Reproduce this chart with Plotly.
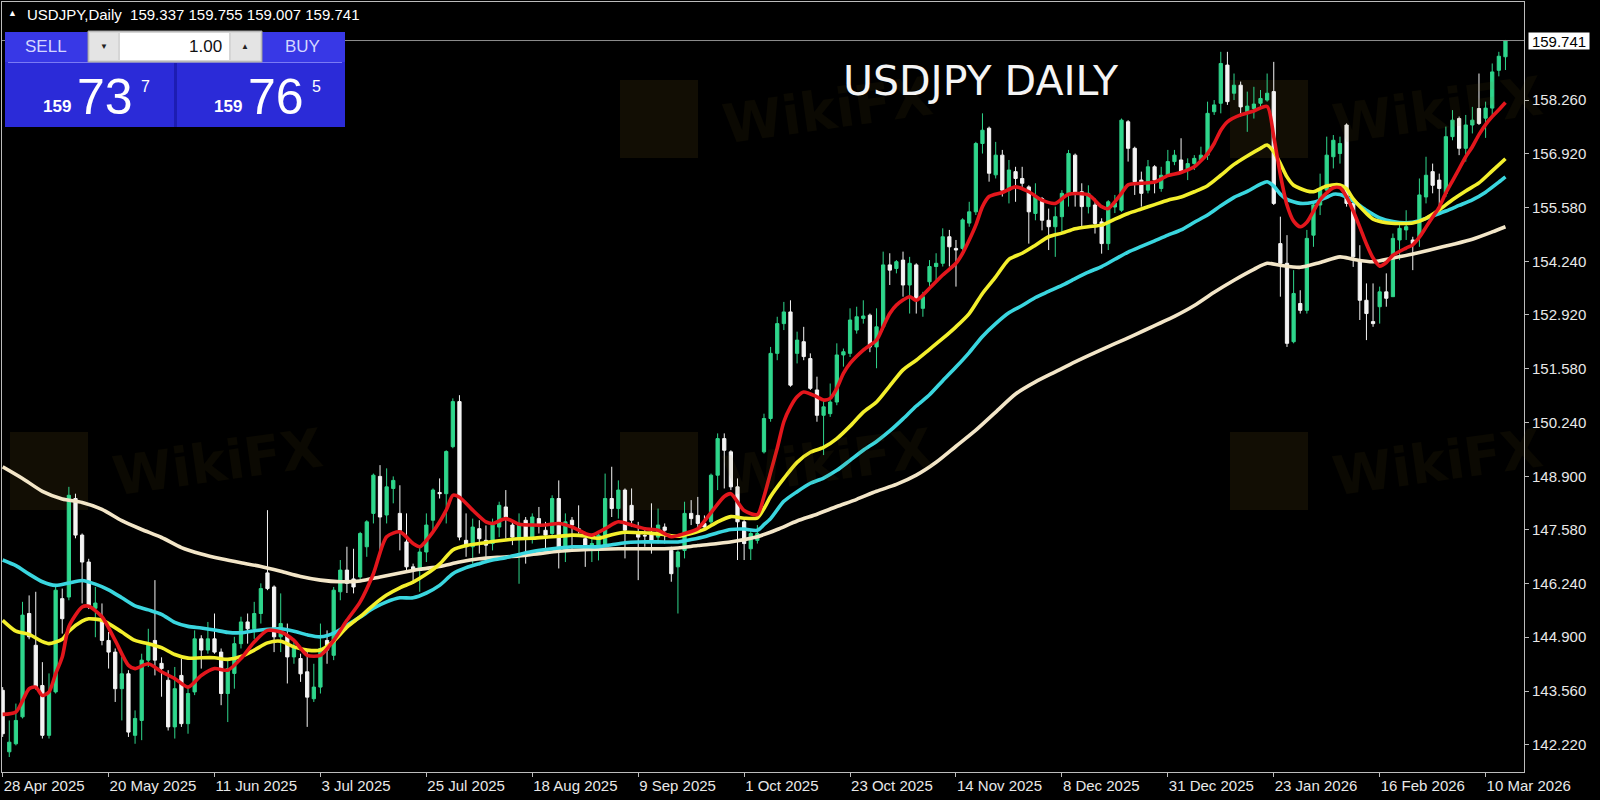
import plotly.graph_objects as go

# ---------------- data ----------------
opens = [
143.58, 142.05, 142.25, 142.92, 145.49, 144.70, 143.70, 142.46, 143.54, 145.86,
145.90, 148.35, 147.44, 146.77, 145.62, 145.32, 144.82, 144.53, 143.62, 143.99,
142.46, 142.83, 144.33, 144.82, 144.25, 143.83, 142.67, 143.95, 142.75, 143.54,
144.86, 144.58, 144.86, 144.53, 143.50, 144.00, 144.74, 145.28, 145.11, 145.49,
146.50, 146.15, 144.91, 144.95, 144.41, 144.37, 144.04, 143.37, 143.66, 144.82,
144.45, 146.03, 146.57, 146.35, 146.40, 147.15, 147.98, 148.90, 147.94, 148.60,
147.98, 147.27, 146.65, 146.57, 147.02, 147.81, 148.50, 148.47, 149.64, 150.76,
147.31, 147.15, 147.60, 147.31, 147.23, 147.64, 148.14, 147.69, 147.35, 147.81,
147.39, 147.85, 147.56, 147.48, 148.35, 147.06, 147.81, 147.60, 147.35, 147.15,
147.15, 147.19, 148.35, 148.10, 148.56, 148.18, 147.48, 147.43, 147.48, 147.39,
147.64, 147.06, 146.65, 147.06, 147.98, 147.93, 147.73, 147.77, 148.93, 149.84,
149.51, 148.64, 147.77, 147.10, 147.31, 149.51, 150.34, 151.96, 152.70, 152.99,
151.96, 152.25, 151.83, 151.05, 150.42, 150.46, 150.75, 151.92, 151.96, 152.54,
152.83, 152.91, 152.12, 152.62, 154.16, 154.07, 154.28, 153.66, 154.16, 153.08,
153.74, 154.12, 154.20, 154.86, 154.57, 154.57, 155.20, 155.48, 157.18, 157.56,
156.40, 156.89, 156.02, 156.48, 156.31, 156.10, 155.44, 155.81, 155.27, 155.11,
155.36, 155.94, 156.89, 155.98, 155.61, 155.65, 155.23, 154.69, 155.60, 155.52,
157.72, 157.06, 156.27, 156.02, 156.60, 156.06, 156.39, 156.73, 156.77, 156.52,
156.68, 156.77, 156.89, 157.97, 158.18, 159.13, 158.43, 158.63, 157.97, 158.05,
158.18, 158.26, 158.47, 154.69, 154.20, 152.25, 153.20, 153.03, 154.90, 155.65,
156.02, 156.85, 156.93, 157.64, 155.69, 154.28, 153.28, 152.75, 153.12, 153.49,
153.37, 154.78, 155.03, 154.78, 154.86, 155.85, 156.48, 156.27, 155.94, 157.35,
157.80, 157.06, 157.64, 158.05, 157.81, 158.06, 159.00, 159.337,
]
highs = [
143.66, 142.83, 143.25, 145.78, 145.94, 146.03, 144.28, 144.00, 146.15, 146.11,
148.64, 148.47, 147.48, 146.85, 146.15, 145.74, 145.03, 144.62, 144.41, 144.08,
143.08, 144.49, 145.11, 146.32, 144.40, 144.08, 144.16, 144.37, 143.66, 145.07,
144.95, 145.28, 145.49, 144.62, 144.33, 144.91, 145.41, 145.49, 145.78, 146.24,
148.06, 146.19, 145.99, 145.24, 144.86, 144.49, 144.58, 144.24, 145.24, 145.07,
146.15, 146.82, 147.15, 147.10, 147.52, 147.81, 148.97, 149.18, 149.10, 148.90,
148.68, 147.98, 146.73, 147.15, 147.98, 148.60, 148.85, 149.55, 150.84, 150.92,
147.98, 147.85, 147.81, 147.68, 147.85, 148.27, 148.56, 147.77, 147.98, 147.89,
147.98, 148.14, 147.77, 148.43, 148.80, 147.98, 147.89, 148.18, 147.48, 147.35,
147.48, 148.97, 149.14, 148.80, 148.60, 148.60, 147.77, 147.64, 148.23, 148.10,
147.73, 147.15, 147.06, 148.27, 148.31, 148.39, 147.93, 148.97, 149.97, 149.97,
149.55, 148.85, 147.81, 147.56, 147.69, 150.46, 152.12, 152.87, 153.24, 153.28,
152.50, 152.62, 151.96, 151.38, 150.80, 151.21, 152.21, 152.08, 153.08, 153.12,
153.28, 152.95, 153.08, 154.49, 154.45, 154.28, 154.49, 154.36, 154.20, 153.49,
154.28, 154.45, 155.07, 155.03, 154.78, 155.32, 155.73, 157.22, 157.93, 157.60,
157.22, 157.02, 156.77, 156.60, 156.60, 156.14, 156.19, 155.85, 155.56, 155.61,
156.02, 157.02, 156.93, 156.19, 156.14, 155.81, 155.32, 155.77, 155.90, 157.80,
157.76, 157.10, 156.48, 156.77, 156.64, 156.60, 157.02, 157.02, 157.31, 156.81,
156.89, 157.10, 158.22, 158.26, 159.46, 159.46, 158.92, 158.72, 158.47, 158.59,
158.51, 158.92, 159.21, 155.36, 154.90, 154.03, 153.53, 155.03, 155.69, 156.43,
157.35, 157.39, 157.35, 157.68, 155.73, 154.65, 153.70, 153.70, 153.62, 153.95,
154.94, 155.19, 155.52, 154.86, 156.31, 156.85, 156.68, 156.43, 157.60, 158.01,
157.85, 157.89, 158.09, 158.92, 158.22, 159.17, 159.46, 159.755,
]
lows = [
142.42, 141.92, 142.21, 142.88, 144.85, 143.60, 142.38, 142.38, 143.50, 144.99,
145.82, 147.36, 145.74, 145.60, 144.90, 144.70, 144.12, 143.29, 142.83, 142.42,
142.25, 142.34, 144.16, 143.95, 143.42, 142.58, 142.38, 142.67, 142.50, 143.46,
144.12, 144.49, 144.49, 143.21, 142.79, 143.62, 144.62, 144.74, 144.86, 145.24,
146.07, 144.53, 144.53, 143.75, 144.24, 143.79, 142.67, 143.29, 143.50, 144.24,
144.33, 145.82, 146.00, 145.99, 146.32, 146.90, 147.73, 147.06, 147.73, 148.23,
147.06, 146.57, 146.23, 146.03, 146.77, 147.56, 148.35, 147.73, 149.60, 147.31,
146.90, 146.73, 146.98, 146.90, 147.06, 147.39, 147.35, 147.19, 146.23, 146.73,
147.23, 147.48, 147.02, 147.39, 146.61, 146.77, 147.06, 147.48, 146.65, 146.77,
146.81, 147.15, 147.89, 147.85, 146.86, 147.64, 146.32, 147.15, 146.98, 147.23,
147.23, 146.28, 145.49, 146.86, 147.69, 147.64, 147.56, 147.70, 148.56, 148.60,
148.56, 146.82, 146.82, 146.82, 147.23, 149.47, 150.26, 151.79, 152.54, 151.13,
151.71, 151.79, 151.05, 150.26, 149.43, 150.38, 150.67, 151.63, 151.87, 152.45,
152.70, 151.99, 151.59, 152.54, 153.66, 153.95, 153.37, 152.95, 152.95, 152.87,
153.57, 153.78, 154.12, 154.12, 153.62, 154.49, 155.11, 155.40, 156.93, 156.23,
156.31, 155.86, 155.69, 155.73, 156.10, 154.69, 155.27, 155.02, 154.53, 154.36,
154.94, 155.61, 155.61, 155.11, 155.44, 154.94, 154.44, 154.53, 155.45, 155.48,
156.73, 155.90, 155.61, 155.94, 155.94, 155.98, 156.35, 156.64, 156.44, 156.27,
156.52, 156.73, 156.77, 157.89, 157.93, 158.14, 158.26, 157.85, 157.47, 157.80,
158.05, 158.22, 155.65, 153.37, 152.12, 152.21, 152.95, 152.95, 154.61, 155.40,
155.94, 156.56, 156.68, 155.61, 154.11, 152.79, 152.29, 152.62, 152.70, 153.12,
153.37, 154.28, 154.78, 154.03, 154.61, 155.69, 155.94, 155.56, 155.85, 157.26,
156.89, 156.73, 157.43, 157.64, 157.32, 157.84, 158.85, 159.007,
]
closes = [
142.50, 142.29, 142.83, 145.45, 144.91, 143.66, 142.46, 143.54, 146.07, 145.36,
148.43, 147.44, 146.77, 145.66, 145.75, 144.82, 144.53, 143.62, 143.99, 142.54,
142.88, 144.33, 144.74, 144.33, 144.12, 142.67, 143.62, 142.75, 143.50, 144.86,
144.58, 144.86, 144.53, 143.50, 144.12, 144.74, 145.28, 145.11, 145.49, 146.11,
146.11, 144.91, 145.24, 144.41, 144.65, 143.99, 143.41, 143.66, 144.62, 144.58,
146.07, 146.57, 146.24, 146.15, 147.48, 147.77, 148.93, 147.89, 148.64, 148.80,
147.56, 146.65, 146.57, 147.02, 147.69, 148.56, 148.47, 149.52, 150.76, 147.39,
147.15, 147.64, 147.35, 147.19, 147.69, 148.18, 147.89, 147.39, 147.73, 147.39,
147.89, 147.69, 147.44, 148.35, 147.06, 147.77, 147.69, 147.56, 147.15, 147.23,
147.44, 148.35, 148.10, 148.56, 147.56, 147.81, 147.39, 147.42, 147.31, 147.69,
147.56, 146.48, 147.02, 147.98, 147.85, 147.73, 147.64, 148.93, 149.84, 149.55,
148.64, 147.77, 147.23, 147.48, 147.48, 150.34, 151.96, 152.70, 152.99, 151.17,
152.29, 151.88, 151.09, 150.42, 150.63, 150.75, 151.92, 152.00, 152.79, 152.87,
152.89, 152.12, 152.62, 154.16, 154.03, 154.24, 153.66, 154.20, 153.28, 153.37,
154.12, 154.20, 154.86, 154.61, 154.53, 155.28, 155.48, 157.18, 157.51, 156.44,
156.89, 156.02, 156.52, 156.31, 156.19, 155.48, 155.85, 155.27, 155.11, 155.36,
155.94, 156.93, 155.94, 155.61, 155.94, 155.19, 154.69, 155.73, 155.70, 157.76,
157.06, 156.23, 155.94, 156.60, 156.27, 156.39, 156.73, 156.89, 156.48, 156.68,
156.81, 156.89, 157.93, 158.14, 159.17, 158.22, 158.63, 158.09, 158.11, 158.16,
158.30, 158.43, 155.69, 154.20, 152.21, 153.45, 153.03, 154.82, 155.65, 156.02,
156.89, 157.26, 157.18, 155.69, 154.36, 153.28, 152.95, 152.70, 153.49, 153.33,
154.82, 155.07, 155.11, 154.69, 155.90, 156.39, 156.14, 156.06, 157.35, 157.76,
157.06, 157.64, 157.76, 157.68, 158.06, 158.96, 159.35, 159.741,
]
bars = list(range(len(closes)))

# moving averages, read at sampled bars
ma_red_idx = [0, 2, 4, 5, 6, 7, 8, 9, 10, 12, 13, 15, 17, 19, 20, 22, 24, 26, 28, 30, 32, 34, 36, 38, 40,
              42, 44, 46, 48, 50, 52, 54, 56, 58, 60, 62, 63, 65, 67, 68, 69, 71, 73, 74, 76, 78, 80, 82,
              84, 86, 88, 89, 91, 93, 95, 97, 99, 101, 103, 105, 107, 109, 110, 112, 114, 115, 116, 117,
              118, 119, 120, 121, 123, 124, 125, 126, 127, 128, 130, 132, 133, 134, 135, 137, 138, 140,
              142, 144, 145, 146, 147, 148, 149, 151, 153, 155, 157, 159, 161, 164, 166, 167, 169, 170,
              172, 174, 176, 178, 180, 181, 182, 183, 184, 185, 187, 189, 191, 192, 193, 194, 195, 196,
              197, 198, 199, 200, 201, 202, 203, 204, 205, 206, 207, 208, 209, 210, 212, 213, 214, 215,
              216, 217, 218, 219, 220, 221, 222, 223, 224, 225, 226, 227]
ma_red_val = [142.98, 143.04, 143.62, 143.66, 143.45, 143.54, 143.99, 144.41, 145.16, 145.65, 145.67, 145.41,
              144.82, 144.20, 144.12, 144.24, 144.04, 143.87, 143.66, 143.95, 144.12, 144.08, 144.37, 144.78,
              145.07, 145.03, 144.82, 144.45, 144.45, 144.82, 145.32, 145.78, 146.48, 147.40, 147.52, 147.23,
              147.15, 147.52, 148.06, 148.43, 148.38, 148.06, 147.77, 147.73, 147.85, 147.71, 147.69, 147.69,
              147.73, 147.64, 147.48, 147.44, 147.60, 147.77, 147.69, 147.60, 147.56, 147.40, 147.48, 147.60,
              148.00, 148.40, 148.47, 148.05, 147.95, 148.40, 149.00, 149.60, 150.26, 150.63, 150.88, 151.00,
              150.88, 150.80, 150.84, 151.09, 151.46, 151.71, 152.04, 152.29, 152.62, 152.95, 153.16, 153.37,
              153.28, 153.58, 153.91, 154.20, 154.45, 154.78, 155.15, 155.61, 155.86, 155.96, 156.10, 155.98,
              155.77, 155.69, 155.92, 155.90, 155.61, 155.56, 155.94, 156.15, 156.19, 156.22, 156.38, 156.46,
              156.60, 156.75, 156.93, 157.18, 157.51, 157.72, 157.89, 157.99, 158.10, 157.35, 156.40, 155.65,
              155.25, 155.11, 155.22, 155.50, 155.78, 155.95, 156.08, 156.08, 155.85, 155.50, 155.10, 154.68,
              154.33, 154.13, 154.22, 154.40, 154.58, 154.66, 154.85, 155.10, 155.35, 155.60, 155.95, 156.25,
              156.55, 156.85, 157.10, 157.40, 157.65, 157.85, 158.02, 158.20]

ma_yellow_idx = [0, 2, 4, 6, 7, 9, 10, 12, 13, 15, 16, 18, 20, 22, 24, 26, 28, 30, 32, 34, 36, 38, 40, 42, 44,
                 46, 48, 50, 52, 54, 56, 58, 60, 62, 64, 66, 68, 70, 72, 74, 76, 78, 80, 82, 84, 86, 88, 90,
                 92, 94, 96, 98, 100, 102, 104, 106, 108, 110, 112, 114, 115, 116, 118, 120, 122, 124, 126,
                 128, 130, 132, 134, 136, 138, 140, 142, 144, 146, 148, 150, 152, 154, 156, 158, 160, 162,
                 164, 166, 168, 170, 172, 174, 176, 178, 180, 182, 184, 186, 188, 190, 191, 192, 193, 194,
                 195, 197, 198, 200, 202, 203, 204, 206, 207, 209, 211, 213, 215, 217, 219, 221, 223, 225, 227]
ma_yellow_val = [145.32, 145.05, 144.97, 144.79, 144.74, 144.85, 145.05, 145.30, 145.36, 145.32, 145.24, 145.03,
                 144.82, 144.74, 144.64, 144.47, 144.38, 144.39, 144.39, 144.35, 144.42, 144.58, 144.76, 144.80,
                 144.66, 144.58, 144.58, 144.80, 145.15, 145.41, 145.70, 145.95, 146.13, 146.27, 146.47, 146.72,
                 147.07, 147.18, 147.23, 147.28, 147.32, 147.35, 147.36, 147.39, 147.41, 147.44, 147.42, 147.36,
                 147.45, 147.51, 147.50, 147.49, 147.45, 147.41, 147.48, 147.58, 147.77, 147.90, 147.86, 147.87,
                 148.10, 148.40, 148.85, 149.25, 149.50, 149.62, 149.84, 150.15, 150.50, 150.75, 151.15, 151.55,
                 151.79, 152.06, 152.33, 152.62, 152.95, 153.45, 153.86, 154.30, 154.45, 154.65, 154.86, 154.95,
                 155.06, 155.11, 155.15, 155.30, 155.44, 155.55, 155.66, 155.77, 155.85, 155.98, 156.13, 156.39,
                 156.66, 156.87, 157.06, 157.14, 156.97, 156.68, 156.35, 156.14, 156.00, 155.98, 156.12, 156.15,
                 156.05, 155.80, 155.44, 155.30, 155.21, 155.19, 155.20, 155.32, 155.53, 155.78, 156.00, 156.20,
                 156.50, 156.80]

ma_cyan_idx = [0, 2, 4, 6, 8, 10, 12, 14, 16, 18, 20, 22, 24, 26, 28, 30, 32, 34, 36, 38, 40, 42, 44, 46, 48,
               50, 52, 54, 56, 58, 60, 62, 64, 66, 68, 70, 72, 74, 76, 78, 80, 82, 84, 86, 88, 90, 92, 94, 96,
               100, 102, 104, 106, 108, 110, 112, 114, 115, 116, 118, 120, 122, 124, 126, 128, 130, 132, 134,
               136, 138, 140, 142, 144, 146, 148, 150, 152, 154, 156, 158, 160, 162, 164, 166, 168, 170, 172,
               174, 176, 178, 180, 182, 184, 186, 188, 190, 191, 192, 193, 194, 196, 198, 200, 201, 202, 204,
               206, 208, 210, 212, 214, 216, 218, 220, 222, 224, 226, 227]
ma_cyan_val = [146.82, 146.68, 146.47, 146.28, 146.19, 146.25, 146.31, 146.22, 146.08, 145.88, 145.68, 145.58,
               145.47, 145.27, 145.17, 145.13, 145.08, 145.02, 145.01, 145.06, 145.10, 145.11, 145.05, 144.96,
               144.91, 145.00, 145.20, 145.40, 145.62, 145.78, 145.88, 145.88, 146.00, 146.19, 146.48, 146.63,
               146.73, 146.82, 146.88, 146.96, 147.03, 147.08, 147.12, 147.15, 147.15, 147.15, 147.20, 147.25,
               147.27, 147.27, 147.27, 147.33, 147.40, 147.50, 147.58, 147.59, 147.56, 147.70, 147.85, 148.28,
               148.52, 148.73, 148.86, 149.05, 149.30, 149.55, 149.77, 150.03, 150.33, 150.65, 150.93, 151.28,
               151.62, 151.98, 152.38, 152.70, 152.97, 153.15, 153.35, 153.50, 153.65, 153.82, 153.98, 154.12,
               154.30, 154.48, 154.62, 154.76, 154.90, 155.03, 155.22, 155.40, 155.63, 155.84, 155.99, 156.17,
               156.23, 156.12, 155.92, 155.79, 155.69, 155.72, 155.84, 155.92, 155.91, 155.75, 155.52, 155.33,
               155.24, 155.21, 155.26, 155.38, 155.50, 155.64, 155.78, 155.97, 156.22, 156.35]

ma_cream_idx = [0, 3, 6, 9, 12, 15, 18, 21, 24, 27, 30, 33, 36, 39, 42, 45, 48, 51, 54, 57, 60, 63, 66, 69, 72,
                75, 78, 81, 84, 87, 90, 93, 96, 99, 102, 105, 108, 111, 114, 117, 120, 123, 126, 129, 132, 135,
                138, 141, 144, 147, 150, 153, 156, 159, 162, 165, 168, 171, 174, 177, 180, 183, 186, 189, 191,
                193, 196, 199, 202, 204, 207, 210, 213, 216, 219, 222, 225, 227]
ma_cream_val = [149.14, 148.85, 148.53, 148.34, 148.25, 148.08, 147.80, 147.58, 147.38, 147.13, 146.97, 146.85,
                146.75, 146.66, 146.54, 146.41, 146.32, 146.28, 146.30, 146.40, 146.50, 146.59, 146.66, 146.77,
                146.85, 146.89, 146.92, 146.98, 147.04, 147.07, 147.09, 147.10, 147.10, 147.10, 147.12, 147.18,
                147.23, 147.30, 147.40, 147.58, 147.79, 147.96, 148.15, 148.33, 148.53, 148.70, 148.93, 149.25,
                149.65, 150.05, 150.50, 150.95, 151.25, 151.50, 151.75, 151.98, 152.20, 152.42, 152.65, 152.88,
                153.15, 153.48, 153.78, 154.05, 154.20, 154.15, 154.10, 154.22, 154.36, 154.30, 154.24, 154.33,
                154.43, 154.55, 154.67, 154.80, 154.98, 155.11]

date_labels = ["28 Apr 2025", "20 May 2025", "11 Jun 2025", "3 Jul 2025", "25 Jul 2025", "18 Aug 2025",
               "9 Sep 2025", "1 Oct 2025", "23 Oct 2025", "14 Nov 2025", "8 Dec 2025", "31 Dec 2025",
               "23 Jan 2026", "16 Feb 2026", "10 Mar 2026"]
date_ticks = [16 * k for k in range(len(date_labels))]
price_ticks = [142.22, 143.56, 144.90, 146.24, 147.58, 148.90, 150.24, 151.58, 152.92,
               154.24, 155.58, 156.92, 158.26]
last_bar = {"open": 159.337, "high": 159.755, "low": 159.007, "close": 159.741}
bid, ask = 159.737, 159.765

# ---------------- geometry helpers (pixel -> paper) ----------------
PL, PR, PT, PB = 2, 1524, 2, 772
def px(x):
    return (x - PL) / (PR - PL)
def py(y):
    return (PB - y) / (PB - PT)

GREEN = "#2fd68c"
WHITE = "#f4f4f4"
AXIS = "#bcbcbc"
FONT = "Liberation Sans"

fig = go.Figure()
fig.add_trace(go.Candlestick(
    x=bars, open=opens, high=highs, low=lows, close=closes,
    increasing=dict(line=dict(color=GREEN, width=1), fillcolor=GREEN),
    decreasing=dict(line=dict(color=WHITE, width=1), fillcolor=WHITE),
    whiskerwidth=0, hoverinfo="skip", showlegend=False,
))
for idx, val, col in [(ma_cream_idx, ma_cream_val, "#f3e6c8"),
                      (ma_cyan_idx, ma_cyan_val, "#3ad6df"),
                      (ma_yellow_idx, ma_yellow_val, "#f3ef2c"),
                      (ma_red_idx, ma_red_val, "#e3161c")]:
    fig.add_trace(go.Scatter(x=idx, y=val, mode="lines",
                             line=dict(color=col, width=3.6, shape="spline", smoothing=0.7),
                             hoverinfo="skip", showlegend=False))

shapes = []
annotations = []

# faint watermark logos
for (x0, y0) in [(10, 432), (620, 80), (620, 432), (1230, 80), (1230, 432)]:
    shapes.append(dict(type="rect", xref="paper", yref="paper", layer="below",
                       x0=px(x0), x1=px(x0 + 78), y0=py(y0 + 78), y1=py(y0),
                       fillcolor="rgba(120,96,24,0.15)", line=dict(width=0)))
    annotations.append(dict(text="<b>WikiFX</b>", xref="paper", yref="paper", showarrow=False,
                            x=px(x0 + 96), y=py(y0 + 30), xanchor="left", yanchor="middle",
                            textangle=-8, font=dict(family="DejaVu Sans", size=54,
                                                    color="rgba(120,96,24,0.09)")))

# bid line
shapes.append(dict(type="line", xref="paper", yref="y", x0=0, x1=1, y0=last_bar["close"],
                   y1=last_bar["close"], line=dict(color="#8e8e8e", width=1), layer="above"))

# one-click trading panel
def rect(x0, y0, x1, y1, fill, line=None):
    d = dict(type="rect", xref="paper", yref="paper", layer="above",
             x0=px(x0), x1=px(x1), y0=py(y1), y1=py(y0), fillcolor=fill,
             line=dict(width=0) if line is None else dict(color=line, width=1))
    shapes.append(d)

rect(5, 32, 345, 127, "#2a2ad6")
rect(5, 32, 88, 62, "#3838e6")
rect(262, 32, 345, 62, "#3838e6")
rect(5, 63, 174, 127, "#2b2bd8")
rect(177, 63, 345, 127, "#2b2bd8")
rect(174, 63, 177, 127, "#1d1db2")
shapes.append(dict(type="line", xref="paper", yref="paper", layer="above",
                   x0=px(8), x1=px(342), y0=py(62.5), y1=py(62.5),
                   line=dict(color="#7a7af4", width=1)))
rect(88, 31, 262, 62, "#d6d6d6", "#9a9a9a")
rect(90, 33, 118, 60, "#e4e4e4")
rect(120, 33, 229, 60, "#ffffff")
rect(231, 33, 260, 60, "#e4e4e4")

def text(t, x, y, size, color, anchor="center", family=FONT, yanchor="middle"):
    annotations.append(dict(text=t, xref="paper", yref="paper", x=px(x), y=py(y),
                            xanchor=anchor, yanchor=yanchor, showarrow=False,
                            font=dict(family=family, size=size, color=color)))

text("SELL", 46, 47, 17, "#d4d6ff")
text("BUY", 302, 47, 17, "#d4d6ff")
text("1.00", 224, 47, 17, "#111111", anchor="right")
text("▼", 104, 46, 8, "#222222")
text("▲", 245, 46, 8, "#222222")

bid_s, ask_s = f"{bid:.3f}", f"{ask:.3f}"
for s, cx in [(bid_s, 0), (ask_s, 171)]:
    big, pips, frac = s[:3], s[4:6], s[6]
    text(f"<b>{big}</b>", 57 + cx, 107, 17, "#ffffff")
    text(pips, 105 + cx, 97, 50, "#ffffff")
    text(frac, 145 + cx, 86, 16, "#ffffff")

# header
text("▲", 12, 13, 9, "#ffffff")
text("USDJPY,Daily  {open:.3f} {high:.3f} {low:.3f} {close:.3f}".format(**last_bar),
     25, 14, 15, "#ffffff", anchor="left")

# chart title
text("USDJPY DAILY", 981, 81, 41, "#f4f4f4", family="DejaVu Sans")

# bid price label on the axis
annotations.append(dict(text=f"{last_bar['close']:.3f}", xref="paper", yref="y",
                        x=px(1528), y=last_bar["close"], xanchor="left", yanchor="middle",
                        showarrow=False, bgcolor="#ffffff", width=60, height=16, borderpad=0,
                        font=dict(family=FONT, size=15, color="#000000")))

fig.update_layout(
    width=1600, height=800,
    margin=dict(l=PL, r=1600 - PR, t=PT, b=800 - PB, pad=0),
    paper_bgcolor="#000000", plot_bgcolor="#000000",
    showlegend=False, hovermode=False,
    font=dict(family=FONT, size=15, color="#e8e8e8"),
    shapes=shapes, annotations=annotations,
    xaxis=dict(range=[-0.1, 229.8], showgrid=False, zeroline=False, showline=True, mirror=True,
               linecolor=AXIS, linewidth=1, ticks="outside", ticklen=4, tickcolor=AXIS,
               tickvals=date_ticks, ticktext=date_labels, ticklabelposition="outside right",
               tickfont=dict(family=FONT, size=15, color="#e8e8e8"),
               rangeslider=dict(visible=False), fixedrange=True),
    yaxis=dict(side="right", range=[141.548, 160.699], showgrid=False, zeroline=False,
               showline=True, mirror=True, linecolor=AXIS, linewidth=1, ticks="outside",
               ticklen=4, tickcolor=AXIS, tickvals=price_ticks,
               ticktext=[f"{v:.3f}" for v in price_ticks],
               tickfont=dict(family=FONT, size=15, color="#e8e8e8"), fixedrange=True),
)

fig.write_html("out.html", config={"displayModeBar": False},
               post_script="document.body.style.margin='0';document.body.style.background='#000';")
